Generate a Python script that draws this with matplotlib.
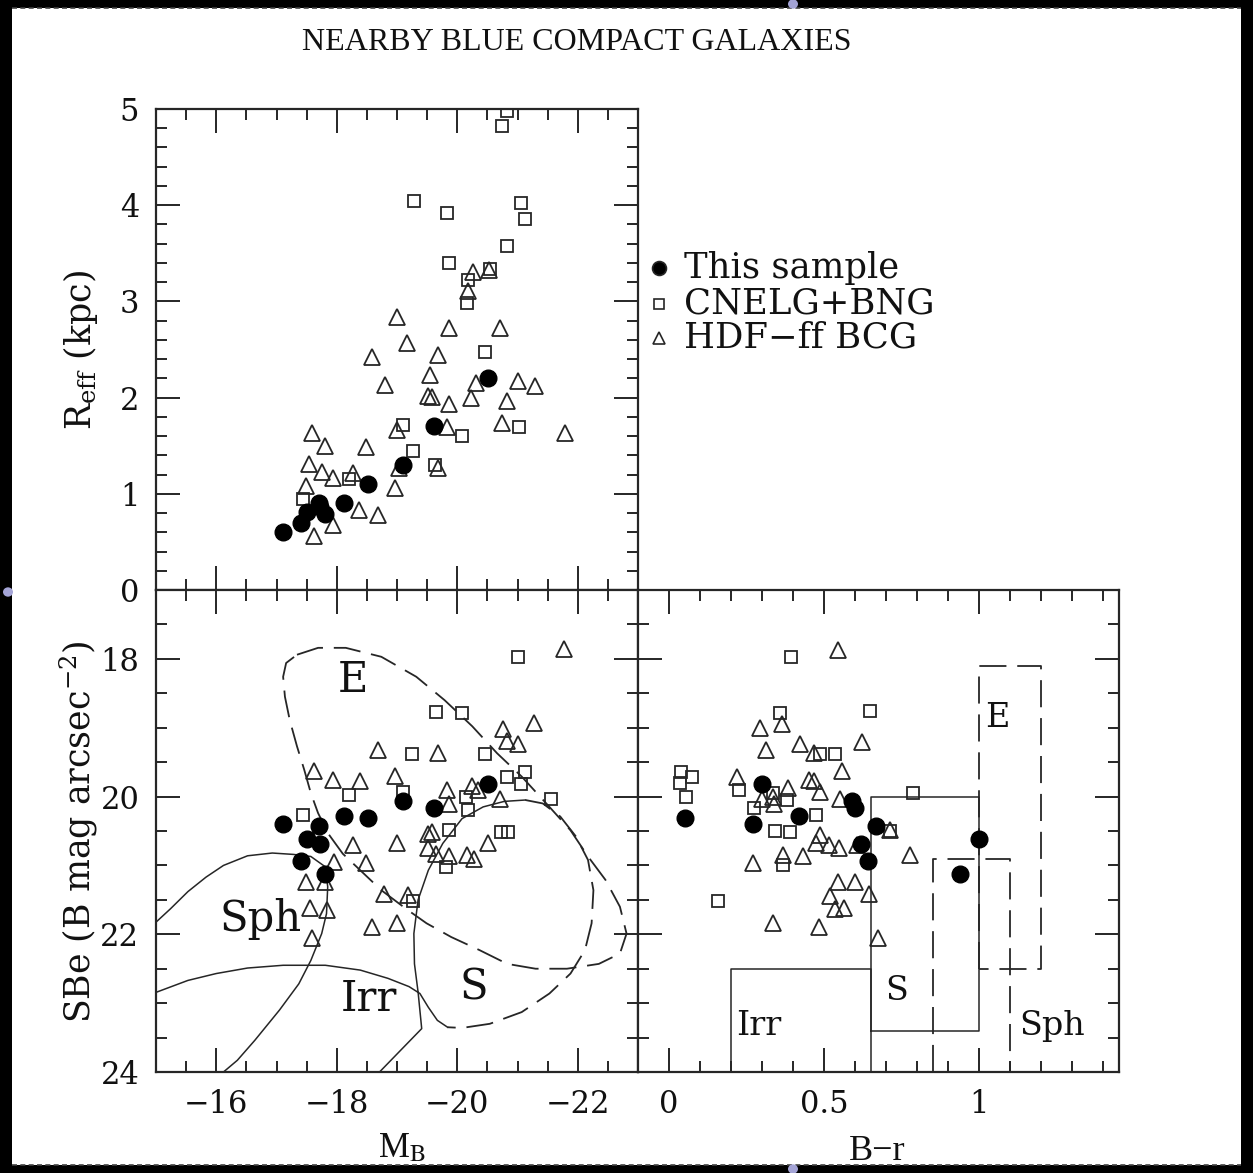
import matplotlib
matplotlib.use('Agg')
import matplotlib.pyplot as plt
from matplotlib.ticker import MultipleLocator, FuncFormatter
from matplotlib.patches import Rectangle, Circle
from matplotlib.lines import Line2D

W, H, DPI = 1253, 1173, 100
INK = '#262626'

# ---- This sample (filled circles) ----
bcg_mb = [-17.11, -17.40, -17.51, -17.70, -17.72, -17.81, -18.12, -18.52, -19.10, -19.61, -20.51]
bcg_reff = [0.60, 0.70, 0.81, 0.90, 0.86, 0.79, 0.90, 1.10, 1.30, 1.70, 2.20]
bcg_sbe = [20.40, 20.94, 20.62, 20.43, 20.69, 21.12, 20.28, 20.31, 20.07, 20.16, 19.82]
bcg_br = [0.27, 0.64, 1.00, 0.668, 0.618, 0.938, 0.42, 0.05, 0.59, 0.60, 0.30]

# ---- CNELG+BNG (open squares) ----
cn_mb_top = [-20.82, -20.75, -19.28, -19.83, -21.06, -21.13, -20.82, -19.86, -20.18, -20.16,
             -20.54, -20.46, -19.10, -19.26, -19.63, -20.08, -21.02, -18.20, -17.44]
cn_reff = [4.98, 4.82, 4.04, 3.92, 4.02, 3.86, 3.58, 3.40, 3.22, 2.98,
           3.34, 2.47, 1.72, 1.44, 1.30, 1.60, 1.69, 1.15, 0.95]
cn_mb = [-21.01, -19.64, -20.08, -19.25, -20.46, -20.82, -21.13, -21.06, -21.56, -19.10,
         -18.20, -17.44, -20.14, -20.18, -19.87, -20.72, -20.84, -19.81, -19.26]
cn_sbe = [17.98, 18.77, 18.79, 19.38, 19.38, 19.71, 19.65, 19.82, 20.04, 19.93,
          19.97, 20.27, 20.00, 20.19, 20.48, 20.51, 20.51, 21.02, 21.51]
cn_br = [0.393, 0.648, 0.357, 0.488, 0.536, 0.038, 0.073, 0.035, 0.054, 0.225,
         0.786, 0.334, 0.38, 0.273, 0.474, 0.343, 0.389, 0.711, 0.368, 0.159]
cn_sbe_r = [17.98, 18.76, 18.78, 19.38, 19.38, 19.65, 19.71, 19.81, 20.00, 19.91,
            19.95, 19.95, 20.05, 20.17, 20.27, 20.50, 20.52, 20.50, 21.00, 21.52]

# ---- HDF-ff BCG (open triangles) ----
hdf_mb_top = [-20.26, -20.53, -20.18, -19.00, -19.86, -20.71, -19.17, -18.59, -19.68, -19.55,
              -18.80, -20.31, -21.00, -21.29, -19.52, -19.58, -19.86, -20.22, -20.82, -20.74,
              -19.83, -19.00, -21.79, -17.59, -17.81, -18.49, -17.54, -17.76, -17.94, -18.27,
              -19.68, -17.49, -18.97, -18.37, -18.68, -17.94, -17.63, -19.03]
hdf_reff = [3.31, 3.33, 3.11, 2.84, 2.72, 2.72, 2.57, 2.42, 2.44, 2.23,
            2.13, 2.15, 2.17, 2.12, 2.02, 2.01, 1.93, 2.00, 1.96, 1.74,
            1.69, 1.66, 1.63, 1.63, 1.50, 1.49, 1.31, 1.23, 1.16, 1.22,
            1.27, 1.08, 1.06, 0.83, 0.78, 0.68, 0.56, 1.27]
hdf_mb = [-21.77, -21.28, -20.76, -20.83, -21.01, -18.68, -19.68, -17.63, -17.94, -18.38,
          -18.96, -19.83, -20.24, -20.34, -20.71, -19.87, -19.52, -19.58, -19.00, -18.27,
          -19.52, -19.64, -19.86, -20.16, -20.27, -20.51, -17.95, -18.49, -17.49, -17.80,
          -18.78, -19.19, -17.55, -17.83, -18.59, -19.00, -17.59]
hdf_sbe = [17.85, 18.93, 19.02, 19.19, 19.23, 19.33, 19.37, 19.63, 19.76, 19.77,
           19.70, 19.90, 19.84, 19.90, 20.03, 20.11, 20.54, 20.51, 20.67, 20.71,
           20.74, 20.84, 20.86, 20.85, 20.91, 20.67, 20.95, 20.96, 21.24, 21.24,
           21.41, 21.43, 21.62, 21.65, 21.89, 21.83, 22.05]
hdf_br = [0.543, 0.293, 0.364, 0.313, 0.423, 0.622, 0.466, 0.22, 0.384, 0.45,
          0.466, 0.488, 0.557, 0.552, 0.334, 0.337, 0.30, 0.488, 0.472, 0.514,
          0.547, 0.606, 0.711, 0.775, 0.27, 0.367, 0.432, 0.545, 0.598, 0.643,
          0.52, 0.536, 0.563, 0.334, 0.482, 0.672]
hdf_sbe_r = [17.87, 19.01, 18.94, 19.33, 19.24, 19.21, 19.37, 19.71, 19.88, 19.76,
             19.77, 19.93, 19.63, 20.03, 20.00, 20.11, 20.03, 20.56, 20.68, 20.70,
             20.75, 20.70, 20.49, 20.85, 20.96, 20.85, 20.87, 21.24, 21.24, 21.42,
             21.45, 21.63, 21.62, 21.83, 21.90, 22.05]

# ---- morphological regions, M_B vs SBe ----
e_mb = [-17.34, -17.69, -18.15, -18.74, -19.32, -19.79, -20.25, -20.66, -21.07, -21.53,
        -21.88, -22.17, -22.46, -22.70, -22.81, -22.70, -22.35, -21.82, -21.30, -20.83,
        -20.37, -19.90, -19.49, -19.15, -18.74, -18.39, -18.10, -17.86, -17.69, -17.57,
        -17.46, -17.34, -17.22, -17.14, -17.11, -17.16, -17.34]
e_sbe = [17.94, 17.84, 17.84, 17.97, 18.26, 18.60, 18.98, 19.37, 19.71, 20.15,
         20.49, 20.87, 21.21, 21.60, 21.99, 22.28, 22.43, 22.50, 22.50, 22.43,
         22.23, 22.04, 21.84, 21.63, 21.36, 21.07, 20.83, 20.54, 20.24, 19.95,
         19.61, 19.27, 18.89, 18.55, 18.26, 18.06, 17.94]
s_solid_mb = [-19.35, -19.29, -19.28, -19.35, -19.52, -19.76, -20.08, -20.43, -20.78, -21.13]
s_solid_sbe = [22.84, 22.43, 21.99, 21.50, 21.07, 20.68, 20.32, 20.15, 20.07, 20.05]
s_dash_mb = [-21.13, -21.42, -21.71, -21.97, -22.17, -22.26, -22.23, -22.12, -21.88, -21.53,
             -21.07, -20.54, -20.08, -19.84]
s_dash_sbe = [20.05, 20.10, 20.29, 20.58, 20.92, 21.36, 21.84, 22.23, 22.57, 22.86,
              23.13, 23.30, 23.36, 23.35]
sph_mb = [-14.98, -15.24, -15.53, -15.83, -16.12, -16.52, -16.93, -17.28, -17.57, -17.81,
          -17.85, -17.83, -17.75, -17.57, -17.37, -17.05, -16.64, -16.35, -16.12]
sph_sbe = [21.84, 21.63, 21.38, 21.17, 21.00, 20.86, 20.82, 20.84, 20.87, 21.02,
           21.31, 21.70, 21.99, 22.38, 22.72, 23.10, 23.54, 23.83, 24.0]
irr_mb = [-14.98, -15.53, -16.0, -16.52, -17.11, -17.81, -18.39, -18.85, -19.20, -19.38,
          -19.52, -19.67, -19.84]
irr_sbe = [22.85, 22.67, 22.57, 22.49, 22.45, 22.45, 22.52, 22.64, 22.76, 22.86,
           23.06, 23.25, 23.35]
irr_low_mb = [-19.35, -19.41, -18.71]
irr_low_sbe = [22.84, 23.37, 24.0]

# ---- morphological boxes, B-r vs SBe ----
irr_box_x = [0.2, 0.2, 0.65, 0.65]
irr_box_y = [24.0, 22.5, 22.5, 24.0]
s_box_x = [0.65, 0.65, 1.0, 1.0, 0.65]
s_box_y = [23.4, 20.0, 20.0, 23.4, 23.4]
e_box_x = [1.0, 1.0, 1.2, 1.2, 1.0]
e_box_y = [22.5, 18.1, 18.1, 22.5, 22.5]
sph_box_x = [0.85, 0.85, 1.1, 1.1]
sph_box_y = [24.0, 20.9, 20.9, 24.0]


def fx(px):
    return px / W


def fy(py):
    return 1 - py / H


def fmt(v, pos):
    return f'{v:g}'.replace('-', '\u2212')


def style(ax):
    ax.set_facecolor('white')
    ax.tick_params(which='both', direction='in', top=True, right=True,
                   color=INK, width=1.4, labelsize=22, labelcolor='#111')
    ax.tick_params(which='major', length=17, pad=12)
    ax.tick_params(which='minor', length=8)
    for s in ax.spines.values():
        s.set_linewidth(1.6)
        s.set_color(INK)
    for lab in ax.get_xticklabels() + ax.get_yticklabels():
        lab.set_family('DejaVu Serif')


def scatter(ax, x1, y1, x2, y2, x3, y3):
    ax.plot(x1, y1, 'o', ms=12, mfc='black', mec='black', ls='none', zorder=4)
    ax.plot(x2, y2, 's', ms=9, mfc='none', mec=INK, mew=1.3, ls='none', zorder=3)
    ax.plot(x3, y3, '^', ms=11, mfc='none', mec=INK, mew=1.3, ls='none', zorder=3)


fig = plt.figure(figsize=(W / DPI, H / DPI), dpi=DPI, facecolor='black')
page = Rectangle((fx(12), fy(1165)), fx(1241) - fx(12), fy(8) - fy(1165),
                 transform=fig.transFigure, facecolor='white', edgecolor='none', zorder=-10)
fig.patches.append(page)
for yy in (8, 1165):
    fig.add_artist(Line2D([fx(12), fx(1241)], [fy(yy), fy(yy)], transform=fig.transFigure,
                          color='#444', lw=1.2, ls=(0, (3, 2)), zorder=-5))
for (cx, cy) in [(8, 592), (793, 4), (793, 1169)]:
    fig.patches.append(Circle((fx(cx), fy(cy)), 5 / W, transform=fig.transFigure,
                              facecolor='#a4a4d6', edgecolor='none', zorder=-5))

ax_top = fig.add_axes([fx(156), fy(590), fx(638) - fx(156), fy(109) - fy(590)])
ax_bl = fig.add_axes([fx(156), fy(1072), fx(638) - fx(156), fy(590) - fy(1072)])
ax_br = fig.add_axes([fx(638), fy(1072), fx(1119) - fx(638), fy(590) - fy(1072)])

# top: R_eff vs M_B
scatter(ax_top, bcg_mb, bcg_reff, cn_mb_top, cn_reff, hdf_mb_top, hdf_reff)
ax_top.set_xlim(-15, -23)
ax_top.set_ylim(0, 5)
ax_top.xaxis.set_major_locator(MultipleLocator(2))
ax_top.xaxis.set_minor_locator(MultipleLocator(0.5))
ax_top.yaxis.set_major_locator(MultipleLocator(1))
ax_top.yaxis.set_minor_locator(MultipleLocator(0.2))
ax_top.yaxis.set_major_formatter(FuncFormatter(fmt))
style(ax_top)
ax_top.tick_params(axis='x', labelbottom=False)

# bottom left: SBe vs M_B
scatter(ax_bl, bcg_mb, bcg_sbe, cn_mb, cn_sbe, hdf_mb, hdf_sbe)
dash = (0, (15, 6))
ax_bl.plot(e_mb, e_sbe, color=INK, lw=1.3, ls=dash)
ax_bl.plot(s_dash_mb, s_dash_sbe, color=INK, lw=1.3, ls=dash)
ax_bl.plot(s_solid_mb, s_solid_sbe, color=INK, lw=1.1)
ax_bl.plot(sph_mb, sph_sbe, color=INK, lw=1.1)
ax_bl.plot(irr_mb, irr_sbe, color=INK, lw=1.1)
ax_bl.plot(irr_low_mb, irr_low_sbe, color=INK, lw=1.1)
ax_bl.set_xlim(-15, -23)
ax_bl.set_ylim(24, 17)
ax_bl.xaxis.set_major_locator(MultipleLocator(2))
ax_bl.xaxis.set_minor_locator(MultipleLocator(0.5))
ax_bl.yaxis.set_major_locator(MultipleLocator(2))
ax_bl.yaxis.set_minor_locator(MultipleLocator(0.5))
ax_bl.xaxis.set_major_formatter(FuncFormatter(fmt))
ax_bl.yaxis.set_major_formatter(FuncFormatter(fmt))
style(ax_bl)
for txt, x, y, fs in [('E', -18.27, 18.30, 30), ('Sph', -16.73, 21.78, 30),
                      ('Irr', -18.53, 22.94, 30), ('S', -20.27, 22.77, 30)]:
    ax_bl.text(x, y, txt, fontsize=fs, family='DejaVu Serif', ha='center', va='center', color='#111')

# bottom right: SBe vs B-r
scatter(ax_br, bcg_br, bcg_sbe, cn_br, cn_sbe_r, hdf_br, hdf_sbe_r)
ax_br.plot(irr_box_x, irr_box_y, color=INK, lw=1.1)
ax_br.plot(s_box_x, s_box_y, color=INK, lw=1.1)
ax_br.plot(e_box_x, e_box_y, color=INK, lw=1.3, ls=dash)
ax_br.plot(sph_box_x, sph_box_y, color=INK, lw=1.3, ls=dash)
ax_br.set_xlim(-0.1, 1.45)
ax_br.set_ylim(24, 17)
ax_br.xaxis.set_major_locator(MultipleLocator(0.5))
ax_br.xaxis.set_minor_locator(MultipleLocator(0.1))
ax_br.yaxis.set_major_locator(MultipleLocator(2))
ax_br.yaxis.set_minor_locator(MultipleLocator(0.5))
ax_br.xaxis.set_major_formatter(FuncFormatter(fmt))
style(ax_br)
ax_br.tick_params(axis='y', labelleft=False)
for txt, x, y in [('E', 1.057, 18.86), ('S', 0.735, 22.83), ('Irr', 0.288, 23.33), ('Sph', 1.234, 23.33)]:
    ax_br.text(x, y, txt, fontsize=24, family='DejaVu Serif', ha='center', va='center', color='#111')

# axis labels
fig.text(fx(80), fy(350), r'R$_{\rm eff}$ (kpc)', rotation=90, ha='center', va='center',
         fontsize=25, family='DejaVu Serif', math_fontfamily='dejavuserif', color='#111')
fig.text(fx(79), fy(832), r'SBe (B mag arcsec$^{-2}$)', rotation=90, ha='center', va='center',
         fontsize=25, family='DejaVu Serif', math_fontfamily='dejavuserif', color='#111')
fig.text(fx(378), fy(1157), r'M$_{\rm B}$', ha='left', va='baseline', fontsize=25,
         family='Liberation Serif', math_fontfamily='stix', color='#111')
fig.text(fx(877), fy(1160), 'B\u2212r', ha='center', va='baseline', fontsize=26,
         family='Liberation Serif', color='#111')
fig.text(fx(577), fy(42), 'NEARBY BLUE COMPACT GALAXIES', ha='center', va='center',
         fontsize=23, family='Liberation Serif', color='#111')

# legend
leg_rows = [('o', 'black', 10, 'This sample', 268),
            ('s', 'none', 7, 'CNELG+BNG', 304),
            ('^', 'none', 8.5, 'HDF\u2212ff BCG', 338)]
for mk, fc, ms, label, yy in leg_rows:
    fig.add_artist(Line2D([fx(659)], [fy(yy)], marker=mk, ms=ms, mfc=fc, mec=INK, mew=1.2,
                          ls='none', transform=fig.transFigure))
    fig.text(fx(684), fy(yy), label, ha='left', va='center', fontsize=25.5,
             family='DejaVu Serif', color='#111')

fig.savefig('out.png', dpi=DPI, facecolor=fig.get_facecolor())
